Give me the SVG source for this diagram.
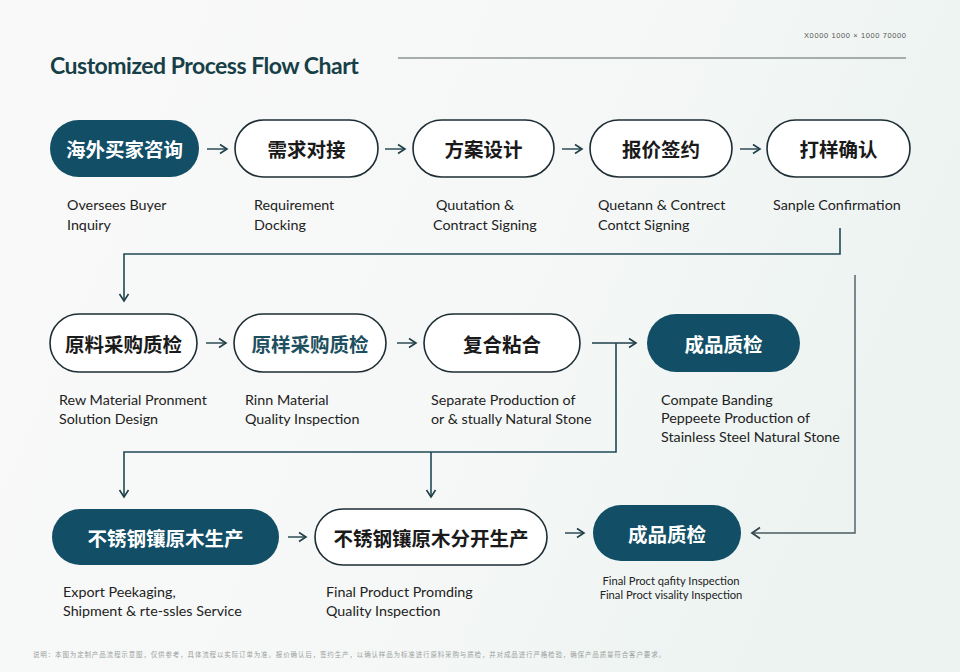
<svg xmlns="http://www.w3.org/2000/svg" width="960" height="672" viewBox="0 0 960 672">
<defs>
<linearGradient id="bg" x1="0" y1="0" x2="1" y2="0.3">
<stop offset="0" stop-color="#f8f9f8"/>
<stop offset="0.6" stop-color="#f6f8f7"/>
<stop offset="1" stop-color="#ecf3f1"/>
</linearGradient>
<marker id="ah" markerWidth="12" markerHeight="12" refX="9" refY="6" orient="auto" markerUnits="userSpaceOnUse">
<path d="M2,1.5 L9,6 L2,10.5" fill="none" stroke="#1f3f48" stroke-width="1.6"/>
</marker>
<marker id="ahg" markerWidth="14" markerHeight="14" refX="11" refY="7" orient="auto" markerUnits="userSpaceOnUse">
<path d="M3,1.5 L11,7 L3,12.5" fill="none" stroke="#34474d" stroke-width="1.8"/>
</marker>
</defs>
<style>
.fill{fill:#124f66;}
.out{fill:#ffffff;stroke:#1d2d33;stroke-width:1.6;}
.cn{font-family:"Noto Sans CJK SC","Noto Sans",sans-serif;font-weight:700;font-size:19.5px;text-anchor:middle;dominant-baseline:central;}
.cnw{fill:#ffffff;}
.cnd{fill:#1a1a1a;}
.cnt{fill:#1e4f5e;}
.lbl{font-family:Lato,"Open Sans",sans-serif;font-size:14.3px;fill:#222;}
.sm{font-family:Lato,"Open Sans",sans-serif;font-size:11.2px;fill:#222;text-anchor:middle;}
.con{fill:none;stroke:#1f4a55;stroke-width:1.6;}
.ar{fill:none;stroke:#1f3f48;stroke-width:1.4;}
.gl{fill:none;stroke:#4b5c61;stroke-width:1.4;}
</style>
<rect width="960" height="672" fill="url(#bg)"/>
<text x="50" y="74" font-family="Lato,'Open Sans',sans-serif" font-weight="700" font-size="23" fill="#173f47" letter-spacing="-0.5">Customized Process Flow Chart</text>
<line x1="398" y1="58" x2="906" y2="58" stroke="#8d9492" stroke-width="1.4"/>
<text x="804" y="38" font-family="'Liberation Sans',sans-serif" font-size="7.5" fill="#555" textLength="102" lengthAdjust="spacing">X0000 1000  ×  1000 70000</text>

<g id="connectors">
<line class="ar" x1="207" y1="149" x2="227" y2="149" marker-end="url(#ah)"/>
<line class="ar" x1="385" y1="149" x2="405" y2="149" marker-end="url(#ah)"/>
<line class="ar" x1="562" y1="149" x2="582" y2="149" marker-end="url(#ah)"/>
<line class="ar" x1="740" y1="149" x2="760" y2="149" marker-end="url(#ah)"/>
<path class="con" d="M840,228 V254 H124 V301" marker-end="url(#ah)"/>
<line class="ar" x1="206" y1="343" x2="226" y2="343" marker-end="url(#ah)"/>
<line class="ar" x1="397" y1="343" x2="416" y2="343" marker-end="url(#ah)"/>
<line class="ar" x1="592" y1="343" x2="636" y2="343" marker-end="url(#ah)"/>
<path class="con" d="M616,343 V452 H124 V497" marker-end="url(#ah)"/>
<path class="con" d="M431,452 V497" marker-end="url(#ah)"/>
<path class="gl" d="M855,275 V533 H752" marker-end="url(#ahg)"/>
<line class="ar" x1="288" y1="537" x2="306" y2="537" marker-end="url(#ah)"/>
<line class="ar" x1="565" y1="533" x2="584" y2="533" marker-end="url(#ah)"/>
</g>

<g id="n1"><rect class="fill" x="50" y="120" width="149" height="57" rx="28.5"/><text class="cn cnw" x="124.5" y="148.5">海外买家咨询</text>
<text class="lbl" x="67" y="210">Oversees Buyer</text><text class="lbl" x="67" y="230">Inquiry</text></g>
<g id="n2"><rect class="out" x="235" y="120" width="143" height="57" rx="28.5"/><text class="cn cnd" x="306.5" y="148.5">需求对接</text>
<text class="lbl" x="254" y="210">Requirement</text><text class="lbl" x="254" y="230">Docking</text></g>
<g id="n3"><rect class="out" x="413" y="120" width="141" height="57" rx="28.5"/><text class="cn cnd" x="483.5" y="148.5">方案设计</text>
<text class="lbl" x="436" y="210">Quutation &amp;</text><text class="lbl" x="433" y="230">Contract Signing</text></g>
<g id="n4"><rect class="out" x="590" y="120" width="142" height="57" rx="28.5"/><text class="cn cnd" x="661" y="148.5">报价签约</text>
<text class="lbl" x="598" y="210">Quetann &amp; Contrect</text><text class="lbl" x="598" y="230">Contct Signing</text></g>
<g id="n5"><rect class="out" x="767" y="120" width="143" height="57" rx="28.5"/><text class="cn cnd" x="838.5" y="148.5">打样确认</text>
<text class="lbl" x="773" y="210">Sanple Confirmation</text></g>

<g id="n6"><rect class="out" x="50" y="314" width="147" height="58" rx="29"/><text class="cn cnd" x="123.5" y="343">原料采购质检</text>
<text class="lbl" x="59" y="405">Rew Material Pronment</text><text class="lbl" x="59" y="424">Solution Design</text></g>
<g id="n7"><rect class="out" x="234" y="314" width="152" height="58" rx="29"/><text class="cn cnt" x="310" y="343">原样采购质检</text>
<text class="lbl" x="245" y="405">Rinn Material</text><text class="lbl" x="245" y="424">Quality Inspection</text></g>
<g id="n8"><rect class="out" x="424" y="314" width="156" height="58" rx="29"/><text class="cn cnd" x="502" y="343">复合粘合</text>
<text class="lbl" x="431" y="405">Separate Production of</text><text class="lbl" x="431" y="424">or &amp; stually Natural Stone</text></g>
<g id="n9"><rect class="fill" x="647" y="314" width="153" height="58" rx="29"/><text class="cn cnw" x="723.5" y="343">成品质检</text>
<text class="lbl" x="661" y="405">Compate Banding</text><text class="lbl" x="661" y="423">Peppeete Production of</text><text class="lbl" x="661" y="442">Stainless Steel Natural Stone</text></g>

<g id="n10"><rect class="fill" x="52" y="509" width="227" height="56" rx="28"/><text class="cn cnw" x="165.5" y="537">不锈钢镶原木生产</text>
<text class="lbl" x="63" y="597">Export Peekaging,</text><text class="lbl" x="63" y="616">Shipment &amp; rte-ssles Service</text></g>
<g id="n11"><rect class="out" x="315" y="509" width="232" height="56" rx="28"/><text class="cn cnd" x="431" y="537">不锈钢镶原木分开生产</text>
<text class="lbl" x="326" y="597">Final Product Promding</text><text class="lbl" x="326" y="616">Quality Inspection</text></g>
<g id="n12"><rect class="fill" x="593" y="505" width="148" height="56" rx="28"/><text class="cn cnw" x="667" y="533">成品质检</text>
<text class="sm" x="671" y="585">Final Proct qafity Inspection</text><text class="sm" x="671" y="599">Final Proct visality Inspection</text></g>

<text x="33" y="657" font-family="'Noto Sans CJK SC',sans-serif" font-size="6.5" fill="#9a9f9d" textLength="632" lengthAdjust="spacing">说明：本图为定制产品流程示意图，仅供参考，具体流程以实际订单为准。报价确认后，签约生产，以确认样品为标准进行原料采购与质检，并对成品进行严格检验，确保产品质量符合客户要求。</text>
</svg>
